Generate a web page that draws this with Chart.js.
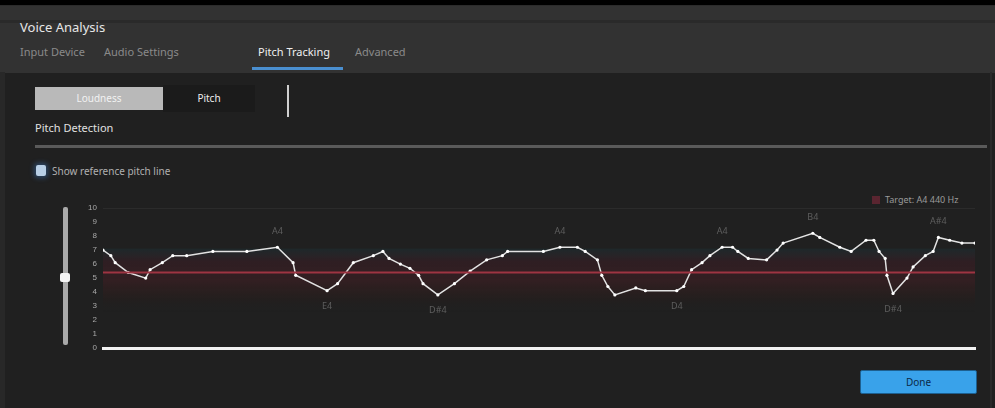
<!DOCTYPE html>
<html>
<head>
<meta charset="utf-8">
<script src="https://cdn.jsdelivr.net/npm/chart.js@4.4.0/dist/chart.umd.min.js"></script>
<style>
  html,body{margin:0;padding:0;background:#202020;width:995px;height:408px;overflow:hidden;
    font-family:"Noto Sans","Open Sans",sans-serif;color:#ddd;}
  .abs{position:absolute}
  #topbar{left:0;top:0;width:995px;height:5px;background:#000}
  #head{left:0;top:5px;width:995px;height:67px;background:#323232;border-top:1px solid #2b2b2b}
  #headline{left:0;top:20px;width:995px;height:3px;background:#2a2a2a}
  #leftedge{left:0;top:72px;width:5px;height:336px;background:#282828}
  #rightedge{left:990px;top:72px;width:2px;height:336px;background:#2a2a2a}
  #title{left:20px;top:18px;font-size:13px;color:#e6e6e6}
  .tab{top:44px;font-size:11px;color:#8a8a8a}
  #tabsel{color:#f0f0f0}
  #tabline{left:252px;top:67px;width:91px;height:3px;background:#4a8fd0}
  #btnA{left:35px;top:87px;width:128px;height:23px;background:#b9b9b9;color:#f2f2f2;font-size:10px;
    text-align:center;line-height:23px}
  #btnB{left:163px;top:85px;width:92px;height:27px;background:#1b1b1b;color:#eee;font-size:10px;
    text-align:center;line-height:27px}
  #cursor{left:287px;top:85px;width:2px;height:32px;background:#d0d0d0}
  #sect{left:35px;top:120px;font-size:11px;color:#e0e0e0}
  #rule{left:35px;top:145px;width:952px;height:3px;background:#5a5a5a}
  #chk{left:36px;top:165px;width:10px;height:11px;background:#b8cfe6;border-radius:2px;
    box-shadow:0 0 5px 2px rgba(60,120,190,.45)}
  #chklbl{left:52px;top:164px;font-size:10px;color:#b0b0b0}
  #legend{left:872px;top:193px;font-size:9px;color:#9a9a9a}
  #legend i{display:inline-block;width:8px;height:8px;background:#5a2530;margin-right:5px;vertical-align:-1px}
  #track{left:63px;top:207px;width:5px;height:138px;background:#a9a9a9;border-radius:2px}
  #thumb{left:60px;top:273px;width:10px;height:9px;background:#f4f4f4;border-radius:2px}
  #done{left:860px;top:370px;width:115px;height:22px;background:#39a2ea;border:1px solid #1d5f8f;
    border-radius:2px;color:#0c2a48;font-size:10px;text-align:center;line-height:22px}
  #wrap{left:75px;top:190px;width:910px;height:169px}
</style>
</head>
<body>
<div class="abs" id="head"></div>
<div class="abs" id="headline"></div>
<div class="abs" id="topbar"></div>
<div class="abs" id="leftedge"></div>
<div class="abs" id="rightedge"></div>
<div class="abs" id="title">Voice Analysis</div>
<div class="abs tab" style="left:20px">Input Device</div>
<div class="abs tab" style="left:104px">Audio Settings</div>
<div class="abs tab" id="tabsel" style="left:258px">Pitch Tracking</div>
<div class="abs tab" style="left:355px">Advanced</div>
<div class="abs" id="tabline"></div>
<div class="abs" id="btnA">Loudness</div>
<div class="abs" id="btnB">Pitch</div>
<div class="abs" id="cursor"></div>
<div class="abs" id="sect">Pitch Detection</div>
<div class="abs" id="rule"></div>
<div class="abs" id="chk"></div>
<div class="abs" id="chklbl">Show reference pitch line</div>
<div class="abs" id="legend"><i></i>Target: A4 440 Hz</div>
<div class="abs" id="track"></div>
<div class="abs" id="thumb"></div>
<div class="abs" id="wrap"><canvas id="graph"></canvas></div>
<div class="abs" id="done">Done</div>

<script>
/* ---- données ---- */
const TEMPS = [0,0.9,1.4,2.9,4.9,5.4,6.8,8.0,9.6,12.6,16.5,20.0,21.8,22.1,25.7,26.9,28.7,31.0,32.1,32.8,
  34.1,35.2,36.2,36.7,38.4,40.3,42.1,44.0,45.8,46.4,50.5,52.4,54.4,55.3,56.7,57.2,57.9,58.7,61.1,62.2,
  65.8,66.6,67.5,68.7,69.6,71.0,72.2,72.8,74.0,76.1,77.3,78.0,81.4,82.2,84.5,85.8,87.5,88.4,89.0,89.7,
  89.9,90.6,92.2,92.9,94.3,95.2,95.8,97.1,98.5,100];
const HAUTEUR = [7.0,6.6,6.1,5.4,5.0,5.6,6.1,6.6,6.6,6.9,6.9,7.2,6.1,5.2,4.1,4.6,6.1,6.6,6.9,6.4,
  6.0,5.7,5.2,4.6,3.8,4.6,5.5,6.3,6.6,6.9,6.9,7.2,7.2,6.9,6.3,5.2,4.4,3.8,4.3,4.1,
  4.1,4.4,5.6,6.1,6.6,7.2,7.2,6.9,6.4,6.3,7.0,7.5,8.2,7.9,7.2,6.9,7.7,7.7,6.9,6.4,
  5.2,3.9,5.0,5.8,6.6,6.9,7.9,7.7,7.5,7.5];
const REFERENCE = 5.4;
const BANDE = [7.1, 2.6];
const Y_TICKS = [0,1,2,3,4,5,6,7,8,9,10];
const NOTES = [[11,'A4',-1],[14,'E4',1],[24,'D#4',1],[31,'A4',-1],[40,'D4',1],[45,'A4',-1],[52,'B4',-1],[61,'D#4',1],[66,'A#4',-1]];

const points = TEMPS.map((t,i)=>({x:t,y:HAUTEUR[i]}));

/* bande de tolérance autour de la référence */
const bandePlugin = {
  id:'bande',
  beforeDatasetsDraw(ch){
    const {ctx, chartArea:a, scales:{y}} = ch;
    const y0 = y.getPixelForValue(BANDE[0]), y1 = y.getPixelForValue(BANDE[1]);
    const g = ctx.createLinearGradient(0,y0,0,y1);
    g.addColorStop(0,'rgba(30,50,55,0.5)');
    g.addColorStop(0.2,'rgba(60,30,38,0.55)');
    g.addColorStop(0.5,'rgba(70,30,36,0.5)');
    g.addColorStop(0.75,'rgba(45,30,28,0.45)');
    g.addColorStop(1,'rgba(32,32,32,0)');
    ctx.save(); ctx.fillStyle=g; ctx.fillRect(a.left,y0,a.right-a.left,y1-y0); ctx.restore();
  }
};
/* étiquettes de notes sur les extremums */
const notesPlugin = {
  id:'notes',
  afterDatasetsDraw(ch){
    const {ctx} = ch; const meta = ch.getDatasetMeta(1);
    ctx.save(); ctx.font='9px "Noto Sans", sans-serif'; ctx.fillStyle='#5e5e5e'; ctx.textAlign='center'; ctx.textBaseline='middle';
    NOTES.forEach(([i,txt,dir])=>{ const p = meta.data[i]; ctx.fillText(txt, p.x, p.y + dir*16); });
    ctx.restore();
  }
};

new Chart(document.getElementById('graph'),{
  type:'line',
  data:{datasets:[
    {label:'Référence',data:[{x:0,y:REFERENCE},{x:100,y:REFERENCE}],borderColor:'#9e3442',borderWidth:2,pointRadius:0},
    {label:'Hauteur',data:points,borderColor:'#e2e2e2',borderWidth:1.5,pointRadius:1.6,
     pointBackgroundColor:'#ffffff',pointBorderWidth:0,tension:0}
  ]},
  options:{
    responsive:true, maintainAspectRatio:false, animation:false,
    layout:{padding:{top:18,right:10,bottom:3,left:0}},
    plugins:{legend:{display:false},tooltip:{enabled:false}},
    scales:{
      x:{type:'linear',min:0,max:100,ticks:{display:false},grid:{display:false,drawTicks:false},
         border:{color:'#f2f2f2',width:3},afterFit:s=>{s.height=0;}},
      y:{min:0,max:10,afterBuildTicks:s=>{s.ticks=Y_TICKS.map(v=>({value:v}));},
         ticks:{color:'#a8a8a8',font:{size:8},padding:6},
         grid:{drawTicks:false,color:c=>c.tick && c.tick.value===10?'rgba(255,255,255,0.05)':'transparent'},
         border:{display:false},afterFit:s=>{s.width=28;}}
    }
  },
  plugins:[bandePlugin,notesPlugin]
});
</script>
</body>
</html>
